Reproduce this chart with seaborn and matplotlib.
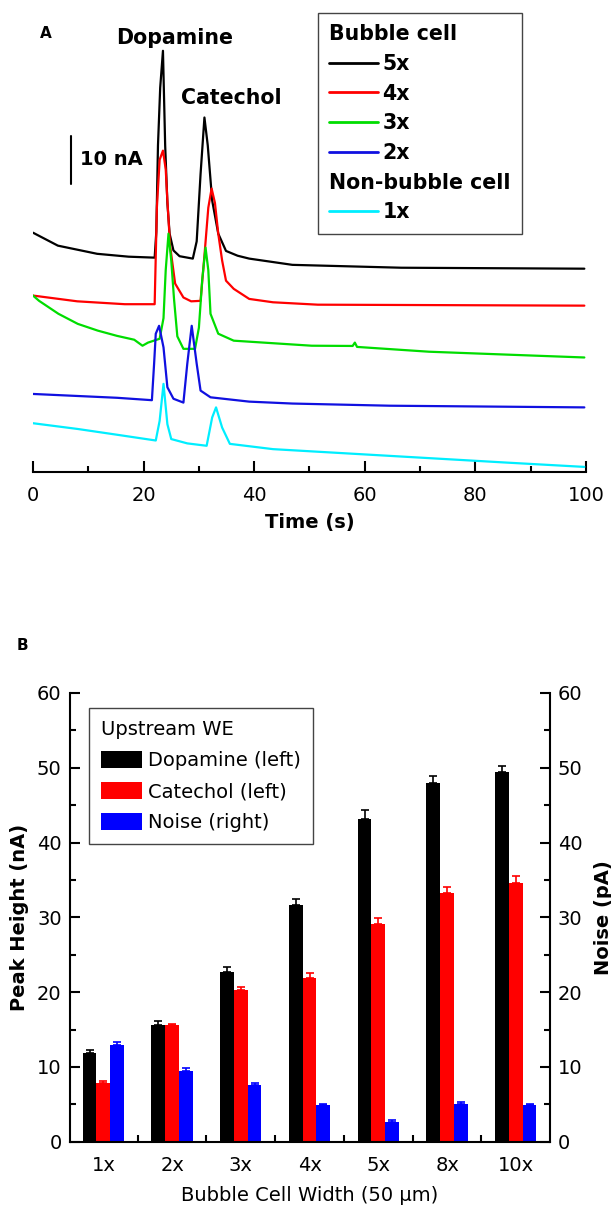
import numpy as np
import pandas as pd
import matplotlib
matplotlib.use("Agg")
import matplotlib.pyplot as plt
import seaborn as sns
from matplotlib.lines import Line2D
from matplotlib.patches import Patch
from matplotlib.ticker import MultipleLocator, FixedLocator

# ---------------- Panel A data (time s, current nA with offsets) ----------------
black_t = [0, 4.5, 11.6, 17.3, 22.0, 22.3, 22.6, 23.0, 23.5, 23.9, 24.3, 24.7, 25.4, 26.5, 28.9,
           29.6, 30.3, 31.0, 31.6, 32.4, 33.5, 34.9, 37.0, 39.1, 46.9, 66.6, 99.7]
black_v = [49.8, 47.1, 45.4, 44.8, 44.6, 50.0, 68.0, 80.0, 87.7, 68.0, 56.0, 49.6, 46.1, 44.9, 44.4,
           48.0, 62.0, 73.8, 68.0, 56.5, 49.6, 46.0, 45.0, 44.4, 43.1, 42.5, 42.3]

red_t = [0, 8.0, 16.6, 22.0, 22.4, 22.9, 23.5, 24.0, 24.3, 24.8, 25.7, 27.2, 28.6, 30.3, 31.0,
         31.7, 32.3, 32.9, 33.5, 34.2, 34.9, 36.3, 39.1, 43.4, 51.5, 99.7]
red_v = [36.7, 35.5, 34.9, 34.9, 55.0, 65.0, 66.9, 63.0, 56.5, 47.0, 39.2, 36.3, 35.5, 35.6, 45.0,
         55.0, 59.0, 56.0, 49.6, 44.0, 39.8, 38.1, 36.0, 35.3, 34.8, 34.6]

green_t = [0, 1.1, 4.6, 8.1, 11.7, 15.2, 18.3, 19.8, 20.8, 22.9, 23.6, 24.0, 24.5, 25.0, 25.5, 26.1,
           27.2, 29.3, 30.0, 30.6, 31.2, 31.7, 32.1, 33.5, 36.3, 50.4, 57.8, 58.2, 58.6, 71.6, 85.6, 99.7]
green_v = [36.7, 35.6, 32.9, 30.8, 29.4, 28.3, 27.5, 26.25, 26.9, 27.7, 32.0, 42.0, 49.6, 44.0, 36.0, 28.2,
           25.6, 25.6, 30.0, 40.0, 46.7, 42.0, 32.9, 28.75, 27.3, 26.25, 26.2, 26.9, 26.0, 25.0, 24.4, 23.8]

blue_t = [0, 15.2, 21.5, 21.9, 22.2, 22.8, 23.6, 24.3, 25.4, 27.2, 27.9, 28.7, 29.6, 30.3, 32.1,
          39.1, 46.9, 64.5, 99.7]
blue_v = [16.2, 15.4, 14.9, 22.5, 28.75, 30.4, 25.9, 17.6, 15.2, 14.4, 22.5, 30.4, 22.5, 16.9, 15.5,
          14.6, 14.2, 13.75, 13.4]

cyan_t = [0, 8.1, 15.2, 22.2, 22.9, 23.6, 24.3, 25.0, 27.9, 31.4, 32.4, 33.1, 34.2, 35.6, 43.4,
          64.5, 85.6, 99.7]
cyan_v = [10.1, 8.9, 7.7, 6.5, 10.6, 18.3, 9.9, 6.8, 5.9, 5.4, 11.3, 13.4, 9.2, 5.8, 4.7,
          3.3, 1.9, 1.0]

trace_labels = ["5x", "4x", "3x", "2x", "1x"]
trace_colors = ["#000000", "#ff0000", "#00dd00", "#1010e0", "#00eeff"]

# ---------------- Panel B data ----------------
categories = ["1x", "2x", "3x", "4x", "5x", "8x", "10x"]
dopamine = [11.9, 15.6, 22.7, 31.6, 43.1, 47.9, 49.4]
dopamine_err = [0.4, 0.6, 0.6, 0.8, 1.3, 1.0, 0.9]
catechol = [7.9, 15.6, 20.3, 21.9, 29.1, 33.2, 34.6]
catechol_err = [0.2, 0.2, 0.4, 0.7, 0.8, 0.9, 0.9]
noise = [12.9, 9.5, 7.6, 4.9, 2.7, 5.1, 4.9]
noise_err = [0.4, 0.4, 0.2, 0.2, 0.2, 0.2, 0.2]
series_names = ["Dopamine (left)", "Catechol (left)", "Noise (right)"]
series_colors = ["#000000", "#ff0000", "#0000ff"]

# ---------------- style ----------------
sns.set_style("ticks", {"axes.edgecolor": "black", "xtick.color": "black", "ytick.color": "black",
                        "text.color": "black", "axes.labelcolor": "black"})
plt.rcParams["font.family"] = ["DejaVu Sans"]

fig = plt.figure(figsize=(6.11, 12.09), dpi=100)

# ================= Panel A =================
axA = fig.add_axes([33 / 611, 1 - 471.7 / 1209, 553 / 611, 461.7 / 1209])
rows = []
for lab, ts, vs in zip(trace_labels, [black_t, red_t, green_t, blue_t, cyan_t],
                       [black_v, red_v, green_v, blue_v, cyan_v]):
    for t, v in zip(ts, vs):
        rows.append({"trace": lab, "time": t, "current": v})
dfa = pd.DataFrame(rows)
sns.lineplot(data=dfa, x="time", y="current", hue="trace", hue_order=trace_labels,
             palette=trace_colors, estimator=None, sort=False, linewidth=1.6, legend=False, ax=axA)
axA.set_xlim(0, 100)
axA.set_ylim(0, 96.2)
for s in ["left", "right", "top"]:
    axA.spines[s].set_visible(False)
axA.spines["bottom"].set_linewidth(1.5)
axA.set_yticks([])
axA.xaxis.set_major_locator(MultipleLocator(20))
axA.xaxis.set_minor_locator(MultipleLocator(10))
axA.tick_params(axis="x", which="major", direction="in", length=8, width=1.5, labelsize=14, pad=10)
axA.tick_params(axis="x", which="minor", direction="in", length=4, width=1.5)
axA.set_xlabel("Time (s)", fontsize=14, fontweight="bold", labelpad=6)
axA.set_ylabel("")

# scale bar
axA.plot([6.9, 6.9], [60, 70], color="black", lw=1.5)
axA.text(8.5, 65, "10 nA", fontsize=14, fontweight="bold", ha="left", va="center")
axA.text(25.7, 90.4, "Dopamine", fontsize=14.8, fontweight="bold", ha="center", va="center")
axA.text(35.8, 77.9, "Catechol", fontsize=14.8, fontweight="bold", ha="center", va="center")

headersA = ["Bubble cell", "Non-bubble cell"]
handlesA = [Line2D([], [], color="none")]
labelsA = ["Bubble cell"]
for lab, col in zip(trace_labels[:4], trace_colors[:4]):
    handlesA.append(Line2D([], [], color=col, lw=2))
    labelsA.append(lab)
handlesA.append(Line2D([], [], color="none"))
labelsA.append("Non-bubble cell")
handlesA.append(Line2D([], [], color=trace_colors[4], lw=2))
labelsA.append(trace_labels[4])
legA = axA.legend(handlesA, labelsA, loc="upper left", bbox_to_anchor=(0.515, 0.9935),
                  borderaxespad=0, prop={"weight": "bold", "size": 14.8}, frameon=True,
                  fancybox=False, edgecolor="#444444", framealpha=1, handlelength=2.4,
                  handletextpad=0.2, labelspacing=0.47, borderpad=0.55)
legA.get_frame().set_linewidth(1.0)


def collapse_headers(leg, headers):
    try:
        for col in leg._legend_handle_box.get_children():
            for row in col.get_children():
                kids = row.get_children()
                if len(kids) == 2 and hasattr(kids[1], "get_text") and kids[1].get_text() in headers:
                    kids[0].set_width(0)
                    row.sep = 0
    except Exception:
        pass


collapse_headers(legA, headersA)

# ================= Panel B =================
axB = fig.add_axes([70 / 611, 1 - 1141.7 / 1209, 479.5 / 611, 448.7 / 1209])
dfb = pd.DataFrame({
    "width": categories * 3,
    "value": dopamine + catechol + noise,
    "series": [series_names[0]] * 7 + [series_names[1]] * 7 + [series_names[2]] * 7,
})
sns.barplot(data=dfb, x="width", y="value", hue="series", order=categories, hue_order=series_names,
            palette=series_colors, saturation=1, width=0.6, gap=0, errorbar=None,
            linewidth=0, legend=False, ax=axB)
errs = [dopamine_err, catechol_err, noise_err]
for cont, err, col in zip(axB.containers, errs, series_colors):
    xs = [p.get_x() + p.get_width() / 2 for p in cont.patches]
    hs = [p.get_height() for p in cont.patches]
    axB.errorbar(xs, hs, yerr=[np.zeros(len(err)), err], fmt="none", ecolor=col,
                 elinewidth=1.2, capsize=3, capthick=1.2)

axB.set_xlim(-0.485, 6.49)
axB.set_ylim(0, 60)
axB.spines["top"].set_visible(False)
axB.spines["right"].set_visible(False)
for s in ["left", "bottom"]:
    axB.spines[s].set_linewidth(1.5)
axB.yaxis.set_major_locator(MultipleLocator(10))
axB.yaxis.set_minor_locator(MultipleLocator(5))
axB.tick_params(axis="y", which="major", direction="in", length=7, width=1.5, labelsize=14, pad=6)
axB.tick_params(axis="y", which="minor", direction="in", length=4, width=1.5)
axB.xaxis.set_minor_locator(FixedLocator([0.5, 1.5, 2.5, 3.5, 4.5, 5.5]))
axB.tick_params(axis="x", which="major", length=0, labelsize=14, pad=10)
axB.tick_params(axis="x", which="minor", direction="in", length=5, width=1.5)
axB.set_xlabel("Bubble Cell Width (50 \u00b5m)", fontsize=14, labelpad=8)
axB.set_ylabel("Peak Height (nA)", fontsize=14, fontweight="bold", labelpad=6)

axB2 = axB.twinx()
axB2.set_ylim(0, 60)
axB2.spines["top"].set_visible(False)
axB2.spines["left"].set_visible(False)
axB2.spines["bottom"].set_visible(False)
axB2.spines["right"].set_linewidth(1.5)
axB2.yaxis.set_major_locator(MultipleLocator(10))
axB2.yaxis.set_minor_locator(MultipleLocator(5))
axB2.tick_params(axis="y", which="major", direction="in", length=7, width=1.5, labelsize=14, pad=6,
                 right=True, labelright=True)
axB2.tick_params(axis="y", which="minor", direction="in", length=4, width=1.5, right=True)
axB2.set_ylabel("Noise (pA)", fontsize=14, fontweight="bold", labelpad=8)

handlesB = [Patch(facecolor=c, edgecolor="none") for c in series_colors]
legB = axB.legend(handlesB, series_names, loc="upper left", bbox_to_anchor=(0.0396, 0.9666),
                  borderaxespad=0, title="Upstream WE", alignment="left", fontsize=14,
                  title_fontsize=14, frameon=True, fancybox=False, edgecolor="#444444",
                  framealpha=1, handlelength=2.1, handleheight=0.95, handletextpad=0.3,
                  labelspacing=0.62, borderpad=0.62)
legB.get_frame().set_linewidth(1.0)

fig.text(40 / 611, 1 - 33 / 1209, "A", fontsize=11, fontweight="bold", ha="left", va="center")
fig.text(17 / 611, 1 - 645 / 1209, "B", fontsize=11, fontweight="bold", ha="left", va="center")

fig.savefig("out.png", dpi=100)
